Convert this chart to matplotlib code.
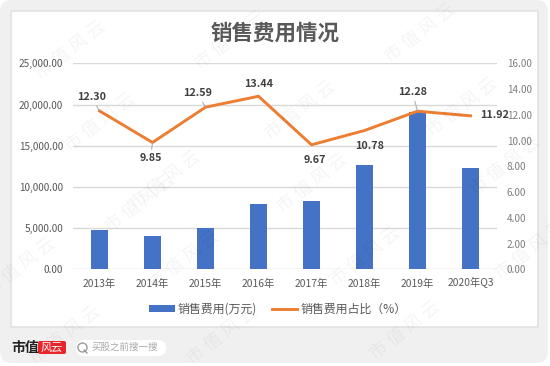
import matplotlib
matplotlib.use('Agg')
import matplotlib.pyplot as plt
from matplotlib.patches import FancyBboxPatch, Rectangle
from matplotlib.ticker import FuncFormatter
from matplotlib.transforms import ScaledTranslation

plt.rcParams['font.family'] = ['Noto Sans CJK SC', 'DejaVu Sans']

years = ['2013年', '2014年', '2015年', '2016年', '2017年', '2018年', '2019年', '2020年Q3']
sales_cost = [4770, 4000, 5050, 7890, 8250, 12660, 19130, 12330]
cost_ratio = [12.30, 9.85, 12.59, 13.44, 9.67, 10.78, 12.28, 11.92]

# label offsets in px from the point, leader line only where the chart has one
label_offsets = [(-8, 14), (-2, -16), (-8, 14), (0, 12), (3, -15), (5, -15), (-5, 19), (24, 1)]
has_leader = [True, True, True, False, False, False, True, False]

W, H = 550, 366
fig = plt.figure(figsize=(W / 100, H / 100), dpi=100, facecolor='white')

# page layer in pixel coordinates
bg = fig.add_axes([0, 0, 1, 1], zorder=0)
bg.set_xlim(0, W); bg.set_ylim(H, 0); bg.axis('off')
bg.add_patch(FancyBboxPatch((12, 12), W - 26, H - 27, boxstyle='round,pad=12,rounding_size=12',
                            fc='#f0f0f0', ec='none'))
bg.add_patch(Rectangle((11, 11), 527, 316, fc='white', ec='#e2e2e2', lw=1.2))

# bottom logo and search pill
bg.text(11, 348, '市值', fontsize=10, fontweight='bold', color='#222222', va='center')
bg.add_patch(FancyBboxPatch((39, 342), 26, 11, boxstyle='round,pad=1,rounding_size=2', fc='#e8262c', ec='none'))
bg.text(52, 347.5, '风云', fontsize=8, color='white', style='italic', ha='center', va='center')
bg.add_patch(FancyBboxPatch((80, 344), 82, 8, boxstyle='round,pad=4,rounding_size=8', fc='white', ec='none'))
bg.plot([81.5], [347], marker='o', ms=6.5, mfc='none', mec='#9a9a9a', mew=1)
bg.plot([84, 87], [350, 353], color='#9a9a9a', lw=1)
bg.text(92, 347.5, '买股之前搜一搜', fontsize=6.8, color='#a8a8a8', va='center')

ax = fig.add_axes([73 / W, 1 - 269.3 / H, 424 / W, 206 / H], zorder=2)
ax.patch.set_alpha(0)
ax2 = ax.twinx()
ax2.patch.set_alpha(0)

x = range(len(years))
bars = ax.bar(x, sales_cost, width=0.31, color='#4472c4', label='销售费用(万元)', zorder=2)
line, = ax2.plot(x, cost_ratio, color='#ed7d31', lw=2.1, solid_joinstyle='miter',
                 label='销售费用占比（%）', zorder=3)

ax.set_xlim(-0.5, 7.5)
ax.set_ylim(0, 25000)
ax2.set_ylim(0, 16)
ax.set_yticks(range(0, 25001, 5000))
ax2.set_yticks(range(0, 17, 2))
ax.yaxis.set_major_formatter(FuncFormatter(lambda v, _: f'{v:,.2f}'))
ax2.yaxis.set_major_formatter(FuncFormatter(lambda v, _: f'{v:.2f}'))
ax.set_xticks(list(x))
ax.set_xticklabels(years, fontsize=7.4, color='#595959', fontweight='medium', va='baseline')
ax.tick_params(axis='x', length=0, pad=12.7)
ax.tick_params(axis='y', length=0, pad=7, labelsize=7.2, labelcolor='#595959')
for t in ax.get_yticklabels():
    t.set_fontweight('medium')
ax2.tick_params(axis='y', length=0, pad=7.2, labelsize=7.2, labelcolor='#7f7f7f')
ax.grid(axis='y', color='#d9d9d9', lw=1, zorder=0)
ax.set_axisbelow(True)
for a in (ax, ax2):
    for sp in a.spines.values():
        sp.set_visible(False)

# Q3 label sits low because of the Q tail, nudge it back onto the row
last = ax.get_xticklabels()[-1]
last.set_transform(last.get_transform() + ScaledTranslation(0, 2 / 100, fig.dpi_scale_trans))

for i, v in enumerate(cost_ratio):
    dx, dy = label_offsets[i]
    ax2.annotate(f'{v:.2f}', (i, v), xytext=(dx * 0.72, dy * 0.72), textcoords='offset points',
                 ha='center', va='center', fontsize=7.8, fontweight='bold', color='#404040', zorder=5,
                 arrowprops=dict(arrowstyle='-', color='#a6a6a6', lw=0.7, shrinkA=1, shrinkB=0) if has_leader[i] else None)

fig.text(275 / W, 1 - 33 / H, '销售费用情况', ha='center', va='center', fontsize=15.5,
         fontweight='bold', color='#595959')

fig.legend(handles=[bars, line], loc='center', bbox_to_anchor=(278 / W, 1 - 309 / H), ncol=2, frameon=False,
           fontsize=8.6, labelcolor='#595959', handlelength=2.1, handleheight=0.5,
           columnspacing=1.3, handletextpad=0.25)

# watermark layer on top of everything
wm = fig.add_axes([0, 0, 1, 1], zorder=5)
wm.set_xlim(0, W); wm.set_ylim(H, 0); wm.axis('off'); wm.patch.set_alpha(0)
wm_centers = [(70, 50), (230, 40), (420, 33), (100, 122), (300, 110), (462, 107),
              (140, 203), (312, 183), (505, 165), (20, 267), (184, 260), (365, 256),
              (530, 250), (65, 335), (222, 335), (405, 330), (165, 180)]
for cx, cy in wm_centers:
    wm.text(cx, cy, '市 值 风 云', fontsize=13, fontweight='light', color='#000000', alpha=0.045, rotation=38,
            ha='center', va='center', rotation_mode='anchor')

fig.savefig('out.png', dpi=100, facecolor='white')
plt.close()
